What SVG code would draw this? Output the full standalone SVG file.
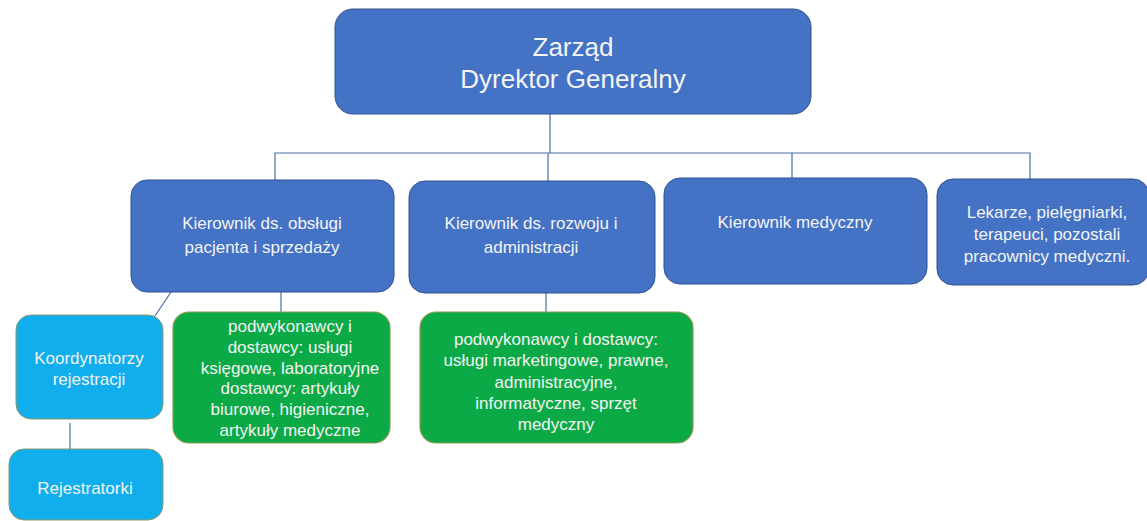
<svg xmlns="http://www.w3.org/2000/svg" width="1147" height="521" viewBox="0 0 1147 521">
<style>
.b{fill:#4472C4;stroke:#2F528F;stroke-width:1}
.c{fill:#10AEEC;stroke:#8E9A6A;stroke-width:1}
.g{fill:#0BAA46;stroke:#8E9A50;stroke-width:1.2}
.t{font-family:"Liberation Sans",Arial,sans-serif;fill:#F4F4F4;text-anchor:middle;font-size:17px}
.l{stroke:#4A6FA5;stroke-width:1.2;fill:none}
</style>
<rect width="1147" height="521" fill="#fff"/>
<g id="connectors">
<path class="l" d="M550 114V153M275 180V153H1030V179M792 153V178M548 153V181"/>
<path class="l" d="M281 292V312M546 293V312M171 292L155 316M70 423V449"/>
</g>
<g id="zarzad">
<rect class="b" x="335" y="9" width="476" height="105" rx="18"/>
<text class="t" x="573" y="56" style="font-size:26px">Zarząd</text>
<text class="t" x="573" y="88" style="font-size:26px">Dyrektor Generalny</text>
</g>
<g id="k1">
<rect class="b" x="131" y="180" width="263" height="112" rx="16"/>
<text class="t" x="262" y="229">Kierownik ds. obsługi</text>
<text class="t" x="262" y="253">pacjenta  i sprzedaży</text>
</g>
<g id="k2">
<rect class="b" x="409" y="181" width="246" height="112" rx="16"/>
<text class="t" x="531" y="229">Kierownik ds. rozwoju  i</text>
<text class="t" x="531" y="253">administracji</text>
</g>
<g id="k3">
<rect class="b" x="664" y="178" width="263" height="106" rx="16"/>
<text class="t" x="795" y="228">Kierownik medyczny</text>
</g>
<g id="k4">
<rect class="b" x="937" y="179" width="212" height="106" rx="16"/>
<text class="t" x="1047" y="218">Lekarze, pielęgniarki,</text>
<text class="t" x="1047" y="240">terapeuci, pozostali</text>
<text class="t" x="1047" y="262">pracownicy medyczni.</text>
</g>
<g id="koordynatorzy">
<rect class="c" x="16" y="315" width="147" height="104" rx="15"/>
<text class="t" x="89" y="364">Koordynatorzy</text>
<text class="t" x="89" y="385">rejestracji</text>
</g>
<g id="rejestratorki">
<rect class="c" x="9" y="449" width="154" height="71" rx="15"/>
<text class="t" x="85" y="494">Rejestratorki</text>
</g>
<g id="g1">
<rect class="g" x="173" y="312" width="217" height="131" rx="16"/>
<text class="t" x="290" y="332">podwykonawcy i</text>
<text class="t" x="290" y="353">dostawcy: usługi</text>
<text class="t" x="290" y="374">księgowe, laboratoryjne</text>
<text class="t" x="290" y="394">dostawcy: artykuły</text>
<text class="t" x="290" y="415">biurowe, higieniczne,</text>
<text class="t" x="290" y="436">artykuły  medyczne</text>
</g>
<g id="g2">
<rect class="g" x="420" y="312" width="273" height="131" rx="16"/>
<text class="t" x="556" y="345">podwykonawcy  i dostawcy:</text>
<text class="t" x="556" y="366">usługi  marketingowe, prawne,</text>
<text class="t" x="556" y="388">administracyjne,</text>
<text class="t" x="556" y="409">informatyczne,  sprzęt</text>
<text class="t" x="556" y="430">medyczny</text>
</g>
</svg>
